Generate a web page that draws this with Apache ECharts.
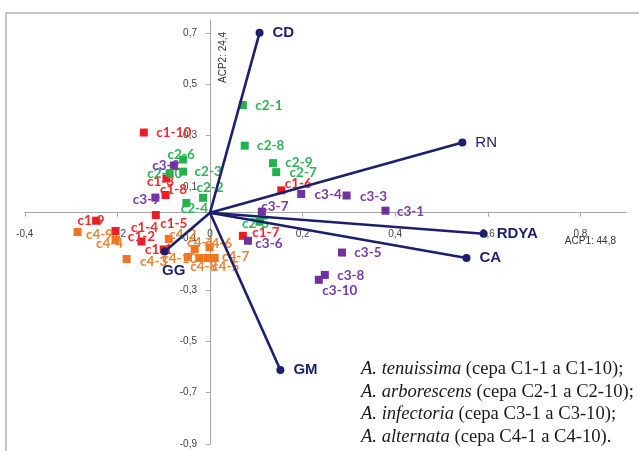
<!DOCTYPE html>
<html><head><meta charset="utf-8">
<script src="https://cdn.jsdelivr.net/npm/echarts@6/dist/echarts.min.js"></script>
<style>html,body{margin:0;padding:0;background:#fff}#c{width:639px;height:451px}</style>
</head><body><div id="c"></div>
<script>
// Axis ticks
const xTicks = [-0.4, -0.2, 0, 0.2, 0.4, 0.6, 0.8];
const yTicks = [-0.9, -0.7, -0.5, -0.3, -0.1, 0.1, 0.3, 0.5, 0.7];

// A. tenuissima (c1)
const c1Names = ['c1-1','c1-2','c1-3','c1-4','c1-5','c1-6','c1-7','c1-8','c1-9','c1-10'];
const c1X = [-0.100, -0.148, -0.094, -0.204, -0.117, 0.154, 0.071, -0.096, -0.246, -0.143];
const c1Y = [-0.143, -0.112, 0.133, -0.071, -0.009, 0.087, -0.090, 0.069, -0.031, 0.312];
// A. arborescens (c2)
const c2Names = ['c2-1','c2-2','c2-3','c2-4','c2-5','c2-6','c2-7','c2-8','c2-9','c2-10'];
const c2X = [0.071, -0.015, -0.058, -0.051, 0.107, -0.058, 0.143, 0.075, 0.136, -0.087];
const c2Y = [0.419, 0.058, 0.160, 0.038, -0.035, 0.207, 0.158, 0.261, 0.193, 0.154];
// A. infectoria (c3)
const c3Names = ['c3-1','c3-2','c3-3','c3-4','c3-5','c3-6','c3-7','c3-8','c3-9','c3-10'];
const c3X = [0.379, -0.078, 0.295, 0.197, 0.285, 0.082, 0.112, 0.248, -0.118, 0.235];
const c3Y = [0.008, 0.184, 0.067, 0.073, -0.155, -0.109, 0.004, -0.242, 0.059, -0.261];
// A. alternata (c4)
const c4Names = ['c4-1','c4-2','c4-3','c4-4','c4-5','c4-6','c4-7','c4-8','c4-9','c4-10'];
const c4X = [-0.033, -0.089, -0.180, -0.204, -0.005, -0.001, 0.010, -0.022, -0.286, -0.048];
const c4Y = [-0.141, -0.102, -0.180, -0.106, -0.176, -0.135, -0.176, -0.176, -0.075, -0.172];

// Variable vectors
const varNames = ['CD', 'RN', 'RDYA', 'CA', 'GM', 'GG'];
const varX = [0.107, 0.545, 0.591, 0.554, 0.152, -0.098];
const varY = [0.700, 0.273, -0.082, -0.176, -0.612, -0.151];

// Legend lines
const legendItalic = ['A. tenuissima', 'A. arborescens', 'A. infectoria', 'A. alternata'];
const legendRest = [' (cepa C1-1 a C1-10);', ' (cepa C2-1 a C2-10);', ' (cepa C3-1 a C3-10);', ' (cepa C4-1 a C4-10).'];

// label placement (style config, offsets of label centre from marker in px)
const labelOffsets = {
  'c1-1':[-5,0],'c1-2':[0,-5],'c1-3':[-6,3],'c1-4':[29,-3],'c1-5':[18,9],'c1-6':[17,-7],'c1-7':[23,-3],'c1-8':[8,-5],'c1-9':[-5,0],'c1-10':[30,0],
  'c2-1':[26,1],'c2-2':[7,-10],'c2-3':[25,0],'c2-4':[8,6],'c2-5':[-4,2],'c2-6':[-2,-5],'c2-7':[27,1],'c2-8':[26,0],'c2-9':[26,0],'c2-10':[-5,0],
  'c3-1':[25,1],'c3-2':[-8,0],'c3-3':[27,1],'c3-4':[27,1],'c3-5':[26,0],'c3-6':[21,3],'c3-7':[13,-5],'c3-8':[26,1],'c3-9':[-9,2],'c3-10':[21,11],
  'c4-1':[6,-6],'c4-2':[14,-4],'c4-3':[27,3],'c4-4':[-6,4],'c4-5':[18,9],'c4-6':[9,-4],'c4-7':[21,-1],'c4-8':[4,9],'c4-9':[22,3],'c4-10':[-8,2]
};
const varLabelPos = {CD:'right',RN:'right',RDYA:'right',CA:'right',GM:'right',GG:'bottom'};

const NAVY = '#1b1f6e';
const AXIS = '#a6a6a6';
const groups = [
  {names:c1Names, xs:c1X, ys:c1Y, color:'#ed1c24', label:'#ee2a2f'},
  {names:c2Names, xs:c2X, ys:c2Y, color:'#22b24c', label:'#2fb455'},
  {names:c3Names, xs:c3X, ys:c3Y, color:'#7030a0', label:'#7b38ad'},
  {names:c4Names, xs:c4X, ys:c4Y, color:'#ee7623', label:'#f07f2e'}
];

const series = [];
groups.forEach(g => {
  series.push({
    type: 'scatter',
    symbol: 'rect',
    symbolSize: 8,
    itemStyle: {color: g.color, opacity: 1},
    label: {
      show: true, position: 'inside', formatter: '{b}',
      color: g.label, fontFamily: 'Lato', fontSize: 13.5, fontWeight: 'bold',
      textBorderWidth: 0
    },
    emphasis: {disabled: true},
    data: g.names.map((n, i) => ({
      name: n, value: [g.xs[i], g.ys[i]],
      label: {offset: labelOffsets[n] || [0,0]}
    })),
    z: 3
  });
});

varNames.forEach((n, i) => {
  const pos = varLabelPos[n];
  series.push({
    type: 'line',
    silent: true,
    lineStyle: {color: NAVY, width: 2.6},
    itemStyle: {color: NAVY},
    showSymbol: true,
    symbolSize: 8,
    animation: false,
    data: [
      {value: [0, 0], symbol: 'none'},
      {value: [varX[i], varY[i]], symbol: 'circle', name: n,
       label: {
         show: true, position: pos, distance: pos === 'bottom' ? 8 : 9,
         offset: pos === 'bottom' ? [9, 0] : [0, 0],
         formatter: n, color: NAVY, fontFamily: 'Liberation Sans',
         fontSize: 15, fontWeight: n === 'RN' ? 'normal' : 'bold'
       }}
    ],
    z: 4
  });
});

const fmt = v => String(v).replace('.', ',');

const option = {
  animation: false,
  backgroundColor: '#fff',
  grid: {left: 24.8, right: 12.3, top: 20, bottom: 7, containLabel: false, outerBoundsMode: 'none'},
  xAxis: {
    type: 'value', min: -0.4, max: 0.9,
    axisLine: {onZero: false, lineStyle: {color: AXIS, width: 1}},
    axisTick: {show: true, length: 4, lineStyle: {color: AXIS}, customValues: xTicks},
    axisLabel: {customValues: xTicks, formatter: fmt, margin: 17, fontSize: 10,
                fontFamily: 'Liberation Sans', color: '#404040'},
    splitLine: {show: false}
  },
  yAxis: {
    type: 'value', min: -0.9, max: 0.75,
    axisLine: {onZero: false, lineStyle: {color: AXIS, width: 1}},
    axisTick: {show: true, length: 4, lineStyle: {color: AXIS}, customValues: yTicks},
    axisLabel: {customValues: yTicks, formatter: fmt, margin: 13, fontSize: 10,
                fontFamily: 'Liberation Sans', color: '#404040'},
    splitLine: {show: false}
  },
  series: series
};

const chart = echarts.init(document.getElementById('c'), null, {renderer: 'canvas'});
chart.setOption(option);

// move both axes so that they cross at the origin (0, 0)
const origin = chart.convertToPixel({gridIndex: 0}, [0, 0]);
const corner = chart.convertToPixel({gridIndex: 0}, [-0.4, -0.9]);
chart.setOption({
  xAxis: {offset: -(corner[1] - origin[1])},
  yAxis: {offset: -(origin[0] - corner[0])}
});

const pY = chart.convertToPixel({gridIndex: 0}, [0, 0.7]);
const pX = chart.convertToPixel({gridIndex: 0}, [0.8, 0]);
const legendEls = legendItalic.map((t, i) => ({
  type: 'text', left: 361, top: 360 + i * 22.4,
  style: {
    text: '{i|' + t + '}' + legendRest[i],
    font: '18.6px "Liberation Serif"', fill: '#1a1a1a',
    rich: {i: {fontStyle: 'italic', fontFamily: 'Liberation Serif', fontSize: 18.6, fill: '#1a1a1a'}}
  }
}));
chart.setOption({
  graphic: [
    {type: 'rect', shape: {x: 6, y: 13, width: 700, height: 500},
     style: {fill: 'none', stroke: '#b4b4b4', lineWidth: 1.5}, z: -1, silent: true},
    {type: 'text', x: pY[0] + 13, y: pY[1] - 1, rotation: Math.PI / 2,
     style: {text: 'ACP2: 24,4', font: '10px "Liberation Sans"', fill: '#333', align: 'right', verticalAlign: 'middle'}},
    {type: 'text', x: pX[0] + 10, y: pX[1] + 29,
     style: {text: 'ACP1: 44,8', font: '10px "Liberation Sans"', fill: '#333', align: 'center', verticalAlign: 'middle'}}
  ].concat(legendEls)
});
</script>
</body></html>
